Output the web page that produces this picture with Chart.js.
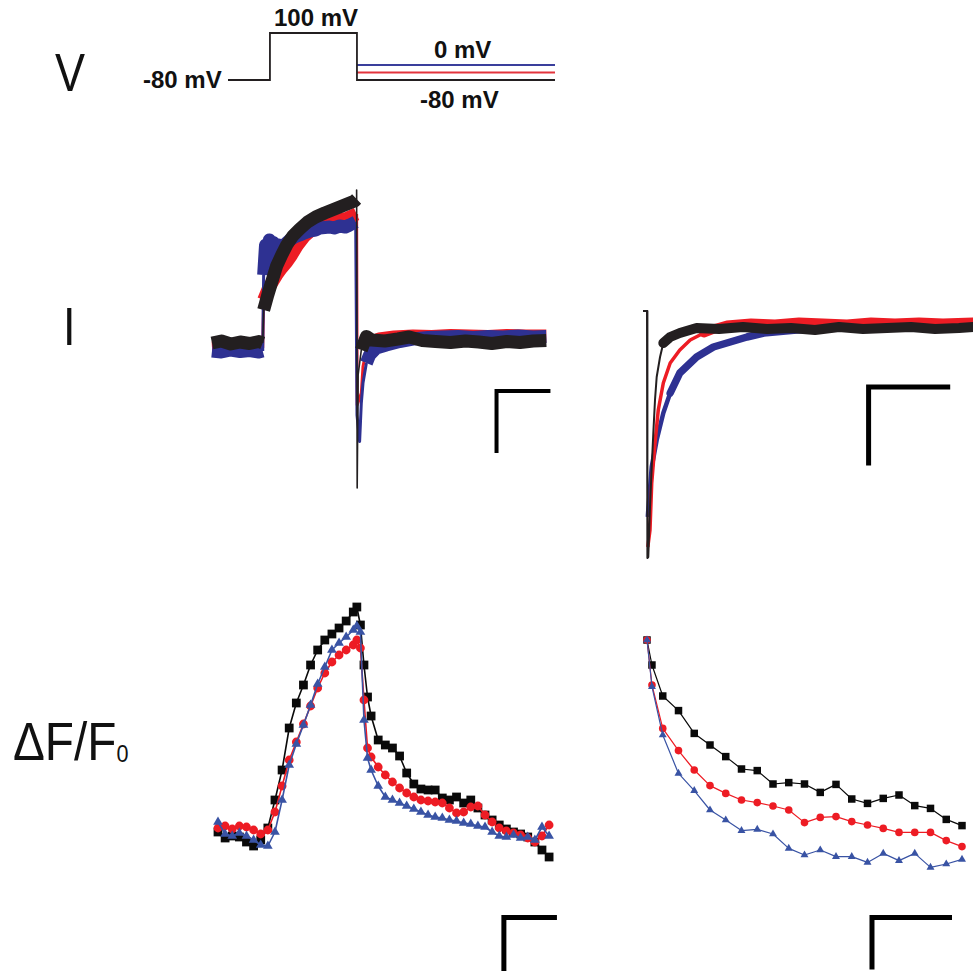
<!DOCTYPE html>
<html>
<head>
<meta charset="utf-8">
<script src="https://cdn.jsdelivr.net/npm/chart.js@4.4.1/dist/chart.umd.min.js"></script>
<style>
  html, body { margin: 0; padding: 0; background: #fff; overflow: hidden; }
  body { width: 973px; height: 974px; position: relative; font-family: "Liberation Sans", Arial, sans-serif; color: #111; }
  .lbl { position: absolute; line-height: 1; white-space: nowrap; }
  .big { font-size: 53px; transform: scaleX(0.85); transform-origin: 0 0; }
  .wide { transform: scaleX(0.9); }
  .big sub { font-size: 24px; vertical-align: baseline; position: relative; top: 2px; }
  .mv { font-size: 24px; font-weight: bold; }
</style>
</head>
<body>
<div class="lbl big" style="left:55px;top:46px">V</div>
<div class="lbl big" style="left:63px;top:300px">I</div>
<div class="lbl big wide" style="left:13px;top:715px">ΔF/F<sub>0</sub></div>
<div class="lbl mv" style="left:274px;top:6px">100 mV</div>
<div class="lbl mv" style="left:434px;top:38px">0 mV</div>
<div class="lbl mv" style="left:143px;top:68px">-80 mV</div>
<div class="lbl mv" style="left:420px;top:88px">-80 mV</div>
<script>
// ---- voltage protocol (ms, mV) ----
const protoT = [-24.1, 0, 0, 50, 50, 163.8];
const protoMv = [-80, -80, 100, 100, -80, -80];
const tailT = [50, 163.8];
const tailBlueMv = [0, 0];
const tailRedMv = [-40, -40];

// ---- current, left (ms from pulse onset, nA) ----
const iBlkT = [-27,-22,-17,-12,-7,-2,0, 0, 0.5,2.7,4.8,7.4,10.1,12.8,16,19.7,23.9,28.2,33,38.3,43.6,48.9,50, 50, 52.5,55.2,58,65,72,78,85,92,100,108,115,122,130,137,144,151];
const iBlkI = [0.04,0.08,0.02,0.06,0.03,0.07,0.04, null, 0.70,1.0,1.26,1.58,1.8,2.0,2.18,2.32,2.46,2.56,2.64,2.72,2.8,2.88,2.92, null, -0.1,0.17,0.10,0.08,0.12,0.16,0.09,0.07,0.05,0.08,0.06,0.03,0.07,0.05,0.08,0.09];
const iBlkStepT = [0, 0.5, 0.5, 50, 50, 50.3, 50.8, 52.5];
const iBlkStepI = [0.04, 0.70, null, 2.92, 3.1, -2.86, -0.6, -0.1];

const iBluT = [-27,-22,-17,-12,-7,-2,0, 0, 0.5,1.5,2.5,3.5,4.5,5.5,7,8.5,10,12,14.4,17,19.7,22,25,28,30.3,33,35.6,38,41,44,46.3,49.5, 49.5, 55.2,56.9,60.5,65.8,72.9,80,88,96,104,112,120,128,136,144,151];
const iBluI = [-0.12,-0.14,-0.10,-0.13,-0.11,-0.14,-0.12, null, 1.4,2.0,1.7,2.1,1.8,2.05,1.9,2.0,1.95,2.02,2.1,2.16,2.2,2.24,2.28,2.3,2.34,2.35,2.36,2.34,2.38,2.36,2.4,2.46, null, -0.36,-0.2,-0.06,0.0,0.07,0.12,0.15,0.16,0.17,0.15,0.17,0.16,0.18,0.16,0.17];
const iBluStepT = [0, 0.5, 0.5, 49.5, 50.2, 51.6, 52.5, 53.4, 55.2];
const iBluStepI = [-0.12, 1.4, null, 2.46, -1.4, -1.93, -1.16, -0.76, -0.36];

const iRedT = [-27,-22,-17,-12,-7,-2,0, 0, 0.5,2.7,4.8,7.4,10.1,12.8,15.4,18.6,22.3,26.6,31.4,38.3,45.2,50, 50, 55.2,56.9,62,70,80,90,100,110,120,130,140,151];
const iRedI = [-0.06,-0.05,-0.08,-0.04,-0.07,-0.05,-0.06, null, 0.9,1.1,1.24,1.4,1.54,1.66,1.8,2.0,2.18,2.32,2.4,2.48,2.54,2.62, null, -0.1,0.04,0.12,0.16,0.18,0.17,0.19,0.18,0.17,0.19,0.18,0.18];
const iRedStepT = [0, 0.5, 0.5, 50, 50.3, 52.5, 53.4, 55.2];
const iRedStepI = [-0.06, 0.9, null, 2.62, -1.2, -0.96, -0.43, -0.1];

const barIT = [153.2, 124.5, 124.5];
const barII = [-0.92, -0.92, -2.16];

// ---- current, right (expanded tail, ms from repolarisation, nA) ----
const rBlkStepT = [-0.5, 0, 0.05, 0.16, 0.375, 0.59, 0.79, 1.0, 1.21, 1.63, 2.04, 2.9];
const rBlkStepI = [0.16, 0.16, -2.31, -2.30, -1.8, -1.4, -1.06, -0.73, -0.5, -0.3, -0.16, -0.1];
const rBlkT = [2.04,2.9,4.1,6.2,9,12,15,18,21,24,27,30,33,36,39,40.75];
const rBlkI = [-0.16,-0.1,-0.06,-0.01,-0.02,0.0,-0.02,-0.01,-0.03,0.0,-0.02,-0.01,0.0,-0.02,-0.01,0.0];
const rRedStepT = [0.1, 0.375, 0.59, 1.0, 1.41, 2.04, 2.9, 4.1, 5.4, 7.1, 8.7];
const rRedStepI = [-2.2, -2.03, -1.56, -1.16, -0.83, -0.56, -0.36, -0.23, -0.13, -0.06, -0.01];
const rRedT = [4.1, 5.4, 7.1, 8.7, 10, 13, 16, 19, 22, 25, 28, 31, 34, 37, 40.75];
const rRedI = [-0.23, -0.13, -0.06, -0.01, 0.02, 0.04, 0.03, 0.05, 0.04, 0.03, 0.05, 0.04, 0.05, 0.04, 0.05];
const rBluStepT = [0.1, 0.16, 0.59, 1.21, 2.04, 2.9, 4.1, 6.2];
const rBluStepI = [-1.9, -1.83, -1.4, -1.13, -0.86, -0.66, -0.46, -0.3];
const rBluT = [2.9, 4.1, 6.2, 8.3, 10.4, 12.5, 14.6, 18.7, 22.9, 26, 29, 32, 35, 38, 40.75];
const rBluI = [-0.66, -0.46, -0.3, -0.2, -0.15, -0.1, -0.06, -0.03, -0.01, 0.0, 0.01, 0.0, 0.01, -0.01, 0.0];
const barRT = [37.9, 27.7, 27.7];
const barRI = [-0.6, -0.6, -1.385];

// ---- dF/F0, left (ms, %) ----
const fLT = [-28,-24,-20,-16,-12,-8,-4,0,4,8,12,16,20,24,28,32,36,40,44,48,50,52,54,56,58,62,66,70,74,78,82,86,90,94,98,102,106,110,114,118,122,126,130,134,138,142,146,150,154,158];
const fLBlk = [-0.1,-0.4,-0.3,-0.35,-0.6,-0.8,-0.5,0.1,1.5,3.0,5.1,6.35,7.25,8.25,9.0,9.5,9.8,10.1,10.45,10.9,11.15,10.25,8.25,6.65,5.7,4.5,4.25,4.1,3.7,2.85,2.3,2.05,2.0,2.0,1.6,1.5,1.65,1.35,1.5,1.1,0.75,0.5,0.25,0.05,-0.1,-0.2,-0.35,-0.6,-1.0,-1.35];
const fLRed = [0.1,0.2,0.05,0.2,0.15,0,-0.2,0,0.9,2.2,3.5,4.4,5.3,6.2,7.1,7.85,8.4,8.75,9.0,9.25,9.5,9.1,6.5,4.1,3.65,3.15,2.75,2.4,2.1,1.85,1.65,1.5,1.45,1.4,1.35,1.1,0.85,0.9,1.15,1.2,0.75,0.4,0.1,-0.05,-0.15,-0.25,-0.4,-0.6,-0.3,0.25];
const fLBlu = [0.4,-0.2,-0.3,-0.15,-0.3,-0.5,-0.75,-0.8,-0.1,1.5,3.25,4.3,5.25,6.25,7.3,8.15,9.0,9.35,9.65,10.0,10.2,9.9,5.5,3.6,3.0,2.2,1.65,1.5,1.35,1.2,1.05,0.9,0.75,0.65,0.6,0.5,0.45,0.35,0.3,0.2,0.15,-0.1,-0.3,-0.35,-0.25,-0.4,-0.35,-0.5,0.15,-0.3];
const barFLT = [162.4, 132.6, 132.6];
const barFLF = [-4.375, -4.375, -7.05];

// ---- dF/F0, right (ms, %) ----
const fRT = [0, 0.63, 2, 4, 6, 8, 10, 12, 14, 16, 18, 20, 22, 24, 26, 28, 30, 32, 34, 36, 38, 40];
const fRBlk = [12.0, 10.75, 9.2, 8.47, 7.33, 6.75, 6.17, 5.55, 5.47, 4.8, 4.87, 4.8, 4.38, 4.78, 4.05, 3.83, 4.08, 4.25, 3.72, 3.58, 3.03, 2.72];
const fRRed = [12.0, 9.75, 7.58, 6.47, 5.5, 4.72, 4.33, 4.0, 3.87, 3.7, 3.5, 2.87, 3.13, 3.17, 2.92, 2.75, 2.58, 2.38, 2.38, 2.38, 1.97, 1.67];
const fRBlu = [12.0, 9.67, 7.25, 5.33, 4.47, 3.5, 3.0, 2.47, 2.53, 2.3, 1.58, 1.25, 1.5, 1.17, 1.17, 0.88, 1.33, 0.97, 1.33, 0.63, 0.8, 1.03];
const barFRT = [38.73, 28.57, 28.57];
const barFRF = [-1.875, -1.875, -4.475];

const BLACK = '#231f20', RED = '#ed1c24', NAVY = '#2e3192', BLUE = '#3953a4';
const PAD = 14;

const pts = (xs, ys) => xs.map((x, i) => ({ x: x, y: ys[i] }));

function line(xs, ys, color, width, extra) {
    return Object.assign({
        data: pts(xs, ys),
        borderColor: color,
        backgroundColor: color,
        borderWidth: width,
        pointRadius: 0,
        tension: 0,
        clip: false,
        borderJoinStyle: 'round',
        borderCapStyle: 'butt'
    }, extra || {});
}

function marks(xs, ys, color, style, r, w) {
    return line(xs, ys, color, w, {
        pointStyle: style,
        pointRadius: r,
        pointBorderWidth: 0,
        pointBackgroundColor: color
    });
}

function bar(xs, ys, width) {
    return line(xs, ys, '#000', width, { borderJoinStyle: 'miter' });
}

// box = plot area in page pixels; datasets listed top-most first
function panel(box, datasets, scales) {
    const c = document.createElement('canvas');
    const w = box.w + 2 * PAD, h = box.h + 2 * PAD;
    c.width = w;
    c.height = h;
    c.style.cssText = 'position:absolute;left:' + (box.x - PAD) + 'px;top:' + (box.y - PAD) + 'px;width:' + w + 'px;height:' + h + 'px';
    document.body.appendChild(c);
    return new Chart(c, {
        type: 'line',
        data: { datasets: datasets },
        options: {
            responsive: false,
            animation: false,
            events: [],
            layout: { padding: PAD, autoPadding: false },
            plugins: { legend: { display: false }, tooltip: { enabled: false } },
            scales: scales
        }
    });
}

const lin = (min, max) => ({ type: 'linear', display: false, min: min, max: max });
const roundEnds = { borderCapStyle: 'round' };

// voltage protocol
panel({ x: 228, y: 25, w: 327, h: 70 }, [
    line(protoT, protoMv, BLACK, 1.8, { yAxisID: 'yStep', borderJoinStyle: 'miter' }),
    line(tailT, tailRedMv, '#e3343c', 2, { yAxisID: 'yTail' }),
    line(tailT, tailBlueMv, '#3a3f9c', 2, { yAxisID: 'yTail' })
], { x: lin(-24.1, 163.8), yStep: lin(-137.4, 130.6), yTail: lin(-160, 213.3) });

// current, left
panel({ x: 212, y: 185, w: 339, h: 305 }, [
    bar(barIT, barII, 4),
    line(iBlkStepT, iBlkStepI, BLACK, 1.6),
    line(iBlkT, iBlkI, BLACK, 13),
    line(iBluStepT, iBluStepI, NAVY, 3),
    line(iBluT, iBluI, NAVY, 13),
    line(iRedStepT, iRedStepI, RED, 3),
    line(iRedT, iRedI, RED, 13)
], { x: lin(-27, 153.5), y: lin(-2.9, 3.2) });

// current, right
panel({ x: 643, y: 311, w: 330, h: 249 }, [
    bar(barRT, barRI, 5),
    line(rBlkStepT, rBlkStepI, BLACK, 2),
    line(rBlkT, rBlkI, BLACK, 10, roundEnds),
    line(rRedStepT, rRedStepI, RED, 3.5),
    line(rRedT.slice(2), rRedI.slice(2), RED, 9, roundEnds),
    line(rBluStepT, rBluStepI, NAVY, 4.5),
    line(rBluT, rBluI, NAVY, 7.5, roundEnds)
], { x: lin(-0.5, 40.75), y: lin(-2.33, 0.16) });

// dF/F0, left
panel({ x: 218, y: 590, w: 340, h: 384 }, [
    bar(barFLT, barFLF, 5),
    marks(fLT, fLBlu, BLUE, 'triangle', 5.6, 1.6),
    marks(fLT, fLRed, RED, 'circle', 4.4, 1.6),
    marks(fLT, fLBlk, '#0a0a0a', 'rect', 6.2, 1.6)
], { x: lin(-28, 163), y: lin(-7.2, 12) });

// dF/F0, right
panel({ x: 647, y: 630, w: 315, h: 344 }, [
    bar(barFRT, barFRF, 5),
    marks(fRT, fRBlu, BLUE, 'triangle', 4.6, 1.2),
    marks(fRT, fRRed, RED, 'circle', 3.8, 1.2),
    marks(fRT, fRBlk, '#0a0a0a', 'rect', 5.3, 1.2)
], { x: lin(0, 40), y: lin(-4.7, 12.5) });
</script>
</body>
</html>
